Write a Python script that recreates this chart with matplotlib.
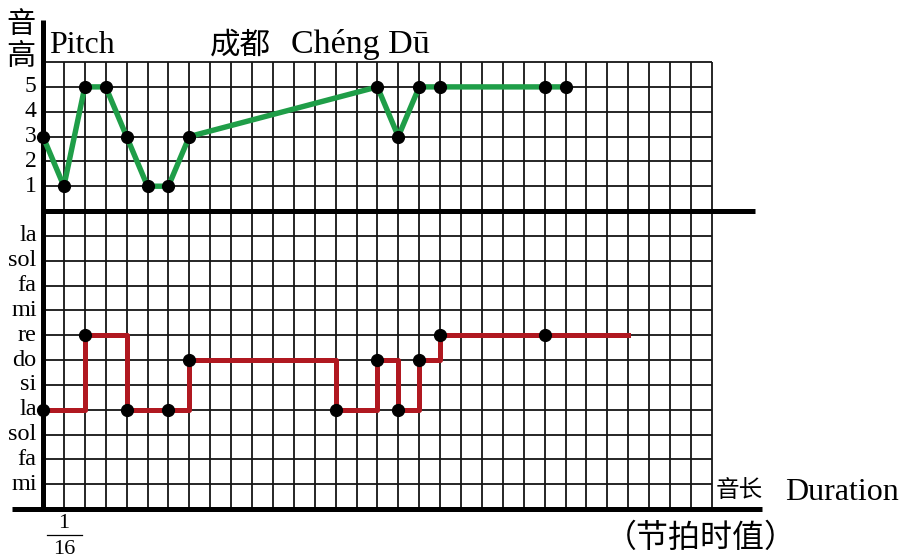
import numpy as np
import matplotlib.pyplot as plt

# data (grid units: x = 1/16 beats, y = grid rows)
pitch_x = [0, 1, 2, 3, 4, 5, 6, 7, 16, 17, 18, 19, 24, 25]
pitch_val = [3, 1, 5, 5, 3, 1, 1, 3, 5, 3, 5, 5, 5, 5]
pitch_ticks = [1, 2, 3, 4, 5]

note_x = [0, 2, 4, 6, 7, 14, 16, 17, 18, 19, 24]
note_lvl = [4, 7, 4, 4, 6, 4, 6, 4, 6, 7, 7]
note_end = 28
solfege = ['mi', 'fa', 'sol', 'la', 'si', 'do', 're', 'mi', 'fa', 'sol', 'la']

ncols = 32
nrows = 18
mid = 12  # the line splitting the two panels

serif = ['Liberation Serif', 'Noto Sans CJK SC']
cjk = ['Noto Sans CJK SC', 'Liberation Serif']

fig = plt.figure(figsize=(9.08, 5.58), dpi=100)
ax = fig.add_axes([0, 0, 1, 1])
ax.set_xlim(-43 / 20.9, (908 - 43) / 20.9)
ax.set_ylim((509 - 558) / 24.83, 509 / 24.83)
ax.axis('off')

# grid paper
gc = '#151515'
ax.vlines(np.arange(1, ncols + 1), 0, nrows, color=gc, lw=1.3, zorder=1)
rows = [r for r in range(1, nrows + 1) if r != mid]
ax.hlines(rows, 0, ncols, color=gc, lw=1.3, zorder=1)

# heavy axes
ax.plot([0, 0], [-0.1, 19.7], color='black', lw=3.6, solid_capstyle='butt', zorder=2)
ax.plot([-1.48, 34.4], [0, 0], color='black', lw=3.6, solid_capstyle='butt', zorder=2)
ax.plot([0, 34.07], [mid, mid], color='black', lw=3.6, solid_capstyle='butt', zorder=2)

# pitch contour (top)
py = [mid + v for v in pitch_val]
ax.plot(pitch_x, py, color='#1f9e48', lw=3.9, zorder=3)
ax.plot(pitch_x, py, 'o', color='black', ms=8.5, zorder=4)

# solfege steps (bottom)
sx = note_x + [note_end]
sy = note_lvl + [note_lvl[-1]]
ax.plot(sx, sy, drawstyle='steps-post', color='#b01820', lw=3.6, zorder=3)
ax.plot(note_x, note_lvl, 'o', color='black', ms=8.5, zorder=4)

# labels
for p in pitch_ticks:
    ax.text(-0.3, mid + p, str(p), fontsize=17, family=serif, ha='right', va='center')
for i, s in enumerate(solfege):
    ax.text(-0.3, i + 1, s, fontsize=17.5, family=serif, ha='right', va='center')

ax.text(-1.05, 19.5, '音', fontsize=21, family=cjk, ha='center', va='center')
ax.text(-1.05, 18.2, '高', fontsize=21, family=cjk, ha='center', va='center')
ax.text(0.3, 18.36, 'Pitch', fontsize=23, family=serif, ha='left', va='baseline')
ax.text(8.0, 18.36, '成都', fontsize=22, family=cjk, ha='left', va='baseline')
ax.text(11.85, 18.36, 'Chéng Dū', fontsize=24.5, family=serif, ha='left', va='baseline')

ax.text(32.2, 0.75, '音长', fontsize=17, family=cjk, ha='left', va='center')
ax.text(35.5, 0.35, 'Duration', fontsize=23, family=serif, ha='left', va='baseline')
ax.text(26.9, -1.15, '（节拍时值）', fontsize=23, family=cjk, ha='left', va='center')

ax.text(1.0, -0.6, '1', fontsize=16, family=serif, ha='center', va='center')
ax.plot([0.2, 1.85], [-1.05, -1.05], color='black', lw=0.9)
ax.text(1.0, -1.62, '16', fontsize=16, family=serif, ha='center', va='center')

fig.savefig('out.png', dpi=100)
